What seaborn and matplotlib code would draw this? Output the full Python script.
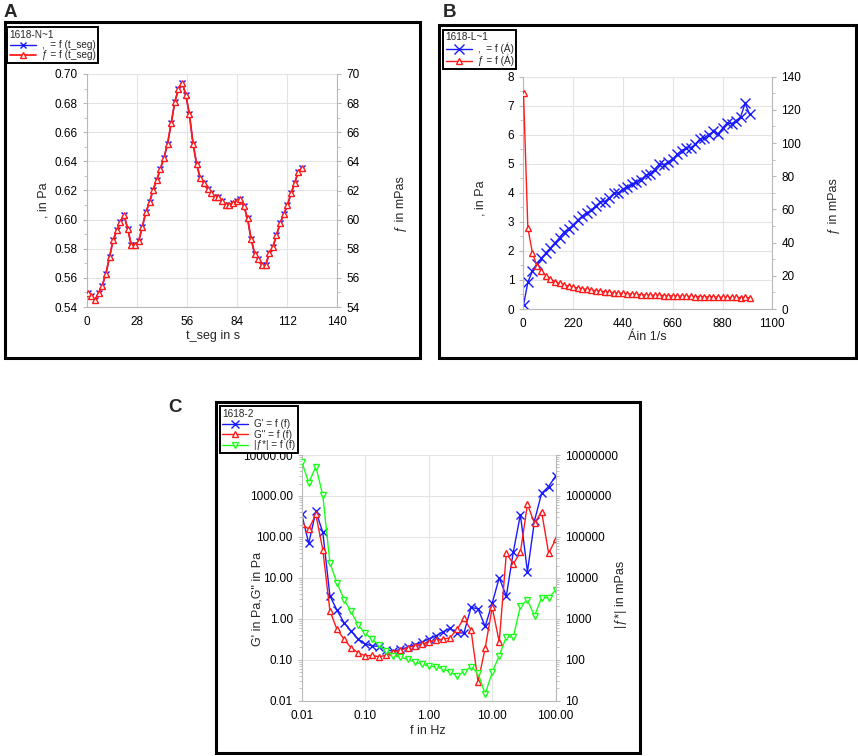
import matplotlib
matplotlib.use('Agg')
import matplotlib.pyplot as plt
import matplotlib.ticker as mticker
from matplotlib.patches import Rectangle
import seaborn as sns

# panel A: tau and eta over time (constant shear rate)
t_seg = [0.4, 2.4, 4.5, 6.5, 8.5, 10.6, 12.6, 14.6, 16.7, 18.7, 20.7, 22.8, 24.8, 26.8, 28.9,
         30.9, 32.9, 35.0, 37.0, 39.0, 41.1, 43.1, 45.1, 47.2, 49.2, 51.2, 53.3, 55.3, 57.3, 59.4,
         61.4, 63.4, 65.5, 67.5, 69.5, 71.6, 73.6, 75.6, 77.7, 79.7, 81.7, 83.8, 85.8, 87.8, 89.9,
         91.9, 93.9, 96.0, 98.0, 100.0, 102.1, 104.1, 106.1, 108.2, 110.2, 112.2, 114.3, 116.3, 118.3, 120.4]
tau_a = [0.5496, 0.5478, 0.5450, 0.5496, 0.5546, 0.5629, 0.5743, 0.5857, 0.5926, 0.5987, 0.6033, 0.5935,
         0.5827, 0.5827, 0.5850, 0.5946, 0.6050, 0.6118, 0.6205, 0.6269, 0.6349, 0.6424, 0.6520, 0.6666,
         0.6810, 0.6895, 0.6940, 0.6858, 0.6726, 0.6520, 0.6380, 0.6285, 0.6250, 0.6211, 0.6186, 0.6154,
         0.6154, 0.6127, 0.6102, 0.6102, 0.6113, 0.6131, 0.6140, 0.6095, 0.6008, 0.5866, 0.5766, 0.5729,
         0.5686, 0.5686, 0.5770, 0.5811, 0.5894, 0.5976, 0.6038, 0.6097, 0.6182, 0.6250, 0.6330, 0.6353]
eta_a = [54.96, 54.78, 54.50, 54.96, 55.46, 56.29, 57.43, 58.57, 59.26, 59.87, 60.33, 59.35,
         58.27, 58.27, 58.50, 59.46, 60.50, 61.18, 62.05, 62.69, 63.49, 64.24, 65.20, 66.66,
         68.10, 68.95, 69.40, 68.58, 67.26, 65.20, 63.80, 62.85, 62.50, 62.11, 61.86, 61.54,
         61.54, 61.27, 61.02, 61.02, 61.13, 61.31, 61.40, 60.95, 60.08, 58.66, 57.66, 57.29,
         56.86, 56.86, 57.70, 58.11, 58.94, 59.76, 60.38, 60.97, 61.82, 62.50, 63.30, 63.53]

# panel B: flow curve
shear_rate = [1, 20, 40, 60, 80, 100, 120, 140, 160, 180, 200, 220, 240, 260, 280, 300, 320, 340,
              360, 380, 400, 420, 440, 460, 480, 500, 520, 540, 560, 580, 600, 620, 640, 660, 680,
              700, 720, 740, 760, 780, 800, 820, 840, 860, 880, 900, 920, 940, 960, 980, 1000]
tau_b = [0.13, 0.92, 1.30, 1.55, 1.75, 1.93, 2.10, 2.28, 2.45, 2.65, 2.75, 2.90, 3.05, 3.20, 3.30,
         3.40, 3.55, 3.68, 3.70, 3.83, 3.98, 4.00, 4.13, 4.20, 4.30, 4.36, 4.45, 4.60, 4.65, 4.80,
         4.98, 4.97, 5.05, 5.15, 5.33, 5.45, 5.55, 5.55, 5.68, 5.85, 5.90, 6.00, 6.12, 6.02, 6.22,
         6.40, 6.38, 6.48, 6.62, 7.08, 6.70]
eta_b = [130, 49, 34, 26, 23, 20, 18, 16.5, 15.5, 14.5, 13.8, 13.2, 12.7, 12.3, 11.8, 11.4, 11.1,
         10.8, 10.4, 10.1, 9.9, 9.6, 9.4, 9.2, 9.0, 8.8, 8.6, 8.5, 8.4, 8.3, 8.2, 8.1, 8.0, 7.9,
         7.8, 7.8, 7.7, 7.6, 7.5, 7.5, 7.4, 7.3, 7.3, 7.2, 7.1, 7.1, 7.0, 7.0, 6.9, 7.1, 6.7]

# panel C: frequency sweep
freq = [0.01, 0.0129, 0.0167, 0.0215, 0.0278, 0.0359, 0.0464, 0.0599, 0.0774, 0.1, 0.129, 0.167,
        0.215, 0.278, 0.359, 0.464, 0.599, 0.774, 1.0, 1.29, 1.67, 2.15, 2.78, 3.59, 4.64, 5.99,
        7.74, 10.0, 12.9, 16.7, 21.5, 27.8, 35.9, 46.4, 59.9, 77.4, 100.0]
g_store = [362, 69.5, 420, 129, 3.66, 1.63, 0.80, 0.50, 0.32, 0.24, 0.22, 0.21, 0.175, 0.16, 0.18,
           0.20, 0.23, 0.27, 0.32, 0.38, 0.48, 0.58, 0.45, 0.45, 1.9, 1.75, 0.65, 2.4, 10, 3.6,
           43, 350, 14, 250, 1150, 1700, 3100]
g_loss = [206, 155, 355, 48, 1.58, 0.55, 0.32, 0.196, 0.148, 0.125, 0.127, 0.118, 0.13, 0.158,
          0.17, 0.196, 0.22, 0.24, 0.27, 0.30, 0.32, 0.34, 0.55, 1.02, 0.53, 0.029, 0.19, 1.9,
          0.275, 40, 22, 42, 630, 214, 415, 40, 87]
eta_c = [6.9e6, 2.1e6, 5.2e6, 1.05e6, 23400, 7600, 2960, 1510, 700, 440, 315, 224, 166, 126, 114,
         102, 89, 78, 70, 67, 60, 51, 40, 51, 67, 47, 14.5, 49, 126, 360, 360, 2040, 2880, 1170,
         3250, 3250, 5000]

W, H = 858, 756
sns.set_style('white')
plt.rcParams['font.family'] = ['Liberation Sans', 'DejaVu Sans']
plt.rcParams['font.size'] = 8.5

BLUE = '#1a1aff'
RED = '#ff1a1a'
GREEN = '#1aff1a'
GRIDC = '#e3e3e3'
SPINEC = '#b8b8b8'
TICK_FS = 8.5
LAB_FS = 9

fig = plt.figure(figsize=(W / 100, H / 100), dpi=100)


def px_axes(x0, y0, x1, y1):
    return fig.add_axes([x0 / W, 1 - y1 / H, (x1 - x0) / W, (y1 - y0) / H])


def style(ax, right=False):
    for s in ['top', 'right', 'left', 'bottom']:
        ax.spines[s].set_visible(False)
    if right:
        ax.spines['right'].set_visible(True)
        ax.spines['right'].set_color(SPINEC)
    else:
        ax.spines['left'].set_visible(True)
        ax.spines['bottom'].set_visible(True)
        ax.spines['left'].set_color(SPINEC)
        ax.spines['bottom'].set_color(SPINEC)
        ax.grid(True, color=GRIDC, lw=0.8)
        ax.set_axisbelow(True)
    ax.tick_params(which='both', direction='out', color=SPINEC, labelsize=TICK_FS, labelcolor='black')
    ax.tick_params(which='major', length=3, width=0.8)
    ax.tick_params(which='minor', length=2, width=0.6)


def frame(x0, y0, x1, y1):
    fig.add_artist(Rectangle((x0 / W, 1 - y1 / H), (x1 - x0) / W, (y1 - y0) / H,
                             transform=fig.transFigure, fill=False, lw=2.2, edgecolor='black'))


def legend(handles, labels, title, x, y):
    leg = fig.legend(handles, labels, title=title, loc='upper left',
                     bbox_to_anchor=(x / W, 1 - y / H), bbox_transform=fig.transFigure,
                     borderaxespad=0, frameon=True, fancybox=False, edgecolor='black',
                     fontsize=7.2, title_fontsize=7.2, handlelength=2.6, borderpad=0.25,
                     labelspacing=0.05, handletextpad=0.6, alignment='left', framealpha=1)
    leg.get_frame().set_linewidth(1.4)
    leg.set_zorder(20)
    return leg


def draw(ax, x, y, color, marker, ms, label, lw=1.0):
    sns.lineplot(x=x, y=y, ax=ax, color=color, marker=marker, markersize=ms, lw=lw,
                 markerfacecolor='white' if marker != 'x' else color,
                 markeredgecolor=color, markeredgewidth=1.0, label=label, sort=False)
    if ax.get_legend() is not None:
        ax.get_legend().remove()
    return ax.get_lines()[-1]


# ---------------- A ----------------
frame(5, 22, 420, 358)
axA = px_axes(87, 74, 337, 307)
axA2 = axA.twinx()
style(axA)
style(axA2, right=True)
hA1 = draw(axA, t_seg, tau_a, BLUE, 'x', 4.5, ',  = f (t_seg)')
hA2 = draw(axA2, t_seg, eta_a, RED, '^', 4, 'ƒ = f (t_seg)', lw=1.3)
axA.set_xlim(0, 140)
axA.set_ylim(0.54, 0.70)
axA2.set_ylim(54, 70)
axA.xaxis.set_major_locator(mticker.MultipleLocator(28))
axA.xaxis.set_minor_locator(mticker.MultipleLocator(14))
axA.yaxis.set_major_locator(mticker.MultipleLocator(0.02))
axA.yaxis.set_minor_locator(mticker.MultipleLocator(0.01))
axA.yaxis.set_major_formatter(mticker.StrMethodFormatter('{x:.2f}'))
axA2.yaxis.set_major_locator(mticker.MultipleLocator(2))
axA2.yaxis.set_minor_locator(mticker.MultipleLocator(1))
axA.set_xlabel('t_seg in s', fontsize=LAB_FS)
axA.set_ylabel(', in Pa', fontsize=LAB_FS)
axA2.set_ylabel('ƒ in mPas', fontsize=LAB_FS)
axA.xaxis.set_label_coords(0.504, -0.10)
axA.yaxis.set_label_coords(-0.148, 0.46)
axA2.yaxis.set_label_coords(1.232, 0.44)
legend([hA1, hA2], [',  = f (t_seg)', 'ƒ = f (t_seg)'], '1618-N~1', 7, 27)
fig.text(4 / W, 1 - 17 / H, 'A', fontsize=13.5, fontweight='bold')

# ---------------- B ----------------
frame(439, 25, 856, 358)
axB = px_axes(523.3, 76.7, 772.3, 309)
axB2 = axB.twinx()
style(axB)
style(axB2, right=True)
hB1 = draw(axB, shear_rate, tau_b, BLUE, 'x', 6.5, ',  = f (Á)')
hB2 = draw(axB2, shear_rate, eta_b, RED, '^', 4, 'ƒ = f (Á)')
axB.set_xlim(0, 1100)
axB.set_ylim(0, 8)
axB2.set_ylim(0, 140)
axB.xaxis.set_major_locator(mticker.MultipleLocator(220))
axB.xaxis.set_minor_locator(mticker.MultipleLocator(110))
axB.yaxis.set_major_locator(mticker.MultipleLocator(1))
axB.yaxis.set_minor_locator(mticker.MultipleLocator(0.5))
axB2.yaxis.set_major_locator(mticker.MultipleLocator(20))
axB2.yaxis.set_minor_locator(mticker.MultipleLocator(10))
axB.set_xlabel('Áin 1/s', fontsize=LAB_FS)
axB.set_ylabel(', in Pa', fontsize=LAB_FS)
axB2.set_ylabel('ƒ in mPas', fontsize=LAB_FS)
axB.xaxis.set_label_coords(0.50, -0.095)
axB.yaxis.set_label_coords(-0.146, 0.476)
axB2.yaxis.set_label_coords(1.224, 0.443)
legend([hB1, hB2], [',  = f (Á)', 'ƒ = f (Á)'], '1618-L~1', 443, 30)
fig.text(443 / W, 1 - 17 / H, 'B', fontsize=13.5, fontweight='bold')

# ---------------- C ----------------
frame(216, 402, 640, 753)
axC = px_axes(301.7, 455, 555.7, 700.7)
axC.set(xscale='log', yscale='log')
axC2 = axC.twinx()
axC2.set_yscale('log')
style(axC)
style(axC2, right=True)
hC1 = draw(axC, freq, g_store, BLUE, 'x', 6, "G' = f (f)")
hC2 = draw(axC, freq, g_loss, RED, '^', 4.5, 'G" = f (f)')
hC3 = draw(axC2, freq, eta_c, GREEN, 'v', 4.5, '|ƒ*| = f (f)')
axC.set_xlim(0.01, 100)
axC.set_ylim(0.01, 10000)
axC2.set_ylim(10, 1e7)
fmt2 = mticker.FuncFormatter(lambda v, p: f'{v:.2f}')
axC.xaxis.set_major_formatter(fmt2)
axC.yaxis.set_major_formatter(fmt2)
axC2.yaxis.set_major_formatter(mticker.FuncFormatter(lambda v, p: f'{v:.0f}'))
for a in (axC.xaxis, axC.yaxis, axC2.yaxis):
    a.set_minor_formatter(mticker.NullFormatter())
axC.yaxis.set_major_locator(mticker.LogLocator(base=10, numticks=10))
axC2.yaxis.set_major_locator(mticker.LogLocator(base=10, numticks=10))
axC.set_xlabel('f in Hz', fontsize=LAB_FS)
axC.set_ylabel('G\' in Pa,G" in Pa', fontsize=LAB_FS)
axC2.set_ylabel('|ƒ*| in mPas', fontsize=LAB_FS)
axC.xaxis.set_label_coords(0.497, -0.10)
axC.yaxis.set_label_coords(-0.152, 0.414)
axC2.yaxis.set_label_coords(1.233, 0.434)
legend([hC1, hC2, hC3], ["G' = f (f)", 'G" = f (f)', '|ƒ*| = f (f)'], '1618-2', 220, 406)
fig.text(168 / W, 1 - 412 / H, 'C', fontsize=13.5, fontweight='bold')

fig.savefig('out.png', dpi=100)
